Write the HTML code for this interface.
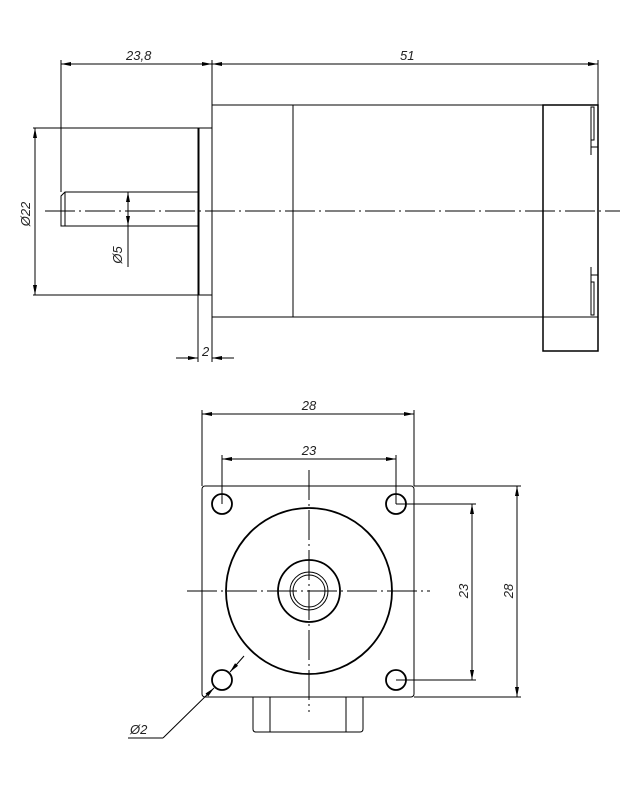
<!DOCTYPE html>
<html><head><meta charset="utf-8"><style>body{margin:0;background:#fff}svg{display:block}text{font-family:"Liberation Sans",sans-serif;font-style:italic;font-size:13px;fill:#222}</style></head><body>
<svg width="631" height="793" viewBox="0 0 631 793" xmlns="http://www.w3.org/2000/svg">
<defs>
<marker id="a" viewBox="0 0 10 4" refX="10" refY="2" markerWidth="10" markerHeight="4" orient="auto-start-reverse" markerUnits="userSpaceOnUse"><path d="M0,0L10,2L0,4z" fill="#000"/></marker>
</defs>
<g stroke="#000" fill="none" stroke-width="1">
<!-- top view dims -->
<line x1="61" y1="60" x2="61" y2="192"/>
<line x1="212" y1="60" x2="212" y2="362"/>
<line x1="598" y1="60" x2="598" y2="105"/>
<line x1="61" y1="64" x2="212" y2="64" marker-start="url(#a)" marker-end="url(#a)"/>
<line x1="212" y1="64" x2="598" y2="64" marker-start="url(#a)" marker-end="url(#a)"/>
<line x1="33" y1="128" x2="198" y2="128"/>
<line x1="33" y1="295" x2="198" y2="295"/>
<line x1="35" y1="128" x2="35" y2="295" marker-start="url(#a)" marker-end="url(#a)"/>
<line x1="128" y1="192" x2="128" y2="226" marker-start="url(#a)" marker-end="url(#a)"/>
<line x1="128" y1="226" x2="128" y2="267"/>
<line x1="198" y1="295" x2="198" y2="362"/>
<line x1="176" y1="358" x2="198" y2="358" marker-end="url(#a)"/>
<line x1="234" y1="358" x2="212" y2="358" marker-end="url(#a)"/>
<!-- body -->
<line x1="212" y1="105" x2="543" y2="105"/>
<line x1="212" y1="317" x2="543" y2="317"/>
<line x1="293" y1="105" x2="293" y2="317"/>
<rect x="212" y="105" width="0" height="212"/>
<rect x="543" y="105" width="55" height="246" stroke-width="1.5"/>
<line x1="543" y1="317" x2="598" y2="317"/>
<rect x="591" y="107" width="3" height="33"/>
<line x1="591" y1="107" x2="591" y2="155"/><line x1="591" y1="147" x2="598" y2="147"/>
<rect x="591" y="282" width="3" height="33"/>
<line x1="591" y1="267" x2="591" y2="315"/><line x1="591" y1="275" x2="598" y2="275"/>
<rect x="198" y="128" width="14" height="167"/>
<line x1="198.5" y1="128" x2="198.5" y2="295" stroke-width="2"/>
<path d="M198,192H65L61,196V226H198"/>
<line x1="65" y1="192" x2="65" y2="226"/>
<line x1="45" y1="211" x2="620" y2="211" stroke-dasharray="30,4,2,4"/>
<!-- bottom view -->
<line x1="202" y1="410" x2="202" y2="486"/>
<line x1="414" y1="410" x2="414" y2="486"/>
<line x1="202" y1="414" x2="414" y2="414" marker-start="url(#a)" marker-end="url(#a)"/>
<line x1="222" y1="455" x2="222" y2="504"/>
<line x1="396" y1="455" x2="396" y2="504"/>
<line x1="222" y1="459" x2="396" y2="459" marker-start="url(#a)" marker-end="url(#a)"/>
<line x1="396" y1="504" x2="476" y2="504"/>
<line x1="396" y1="680" x2="476" y2="680"/>
<line x1="472" y1="504" x2="472" y2="680" marker-start="url(#a)" marker-end="url(#a)"/>
<line x1="414" y1="486" x2="521" y2="486"/>
<line x1="414" y1="697" x2="521" y2="697"/>
<line x1="517" y1="486" x2="517" y2="697" marker-start="url(#a)" marker-end="url(#a)"/>
<rect x="202" y="486" width="212" height="211" rx="3"/>
<g stroke-width="1.8">
<circle cx="222" cy="504" r="10"/><circle cx="396" cy="504" r="10"/>
<circle cx="222" cy="680" r="10"/><circle cx="396" cy="680" r="10"/>
<circle cx="309" cy="591" r="83"/>
<circle cx="309" cy="591" r="31"/>
</g>
<circle cx="309" cy="591" r="19"/>
<circle cx="309" cy="591" r="16"/>
<path d="M253,697V729Q253,732 256,732H360Q363,732 363,729V697"/>
<line x1="270" y1="697" x2="270" y2="732"/><line x1="346" y1="697" x2="346" y2="732"/>
<line x1="187" y1="591" x2="430" y2="591" stroke-dasharray="30,4,2,4"/>
<line x1="309" y1="470" x2="309" y2="712" stroke-dasharray="30,4,2,4"/>
<line x1="244" y1="656" x2="230" y2="672" marker-end="url(#a)"/>
<line x1="163" y1="738" x2="214" y2="688" marker-end="url(#a)"/>
<line x1="128" y1="738" x2="163" y2="738"/>
</g>
<text x="126" y="60">23,8</text>
<text x="400" y="60">51</text>
<text x="202" y="356">2</text>
<text transform="translate(30,214) rotate(-90)" text-anchor="middle">Ø22</text>
<text transform="translate(122,255) rotate(-90)" text-anchor="middle">Ø5</text>
<text x="309" y="410" text-anchor="middle">28</text>
<text x="309" y="455" text-anchor="middle">23</text>
<text transform="translate(468,591) rotate(-90)" text-anchor="middle">23</text>
<text transform="translate(513,591) rotate(-90)" text-anchor="middle">28</text>
<text x="130" y="734">Ø2</text>
</svg>
</body></html>
